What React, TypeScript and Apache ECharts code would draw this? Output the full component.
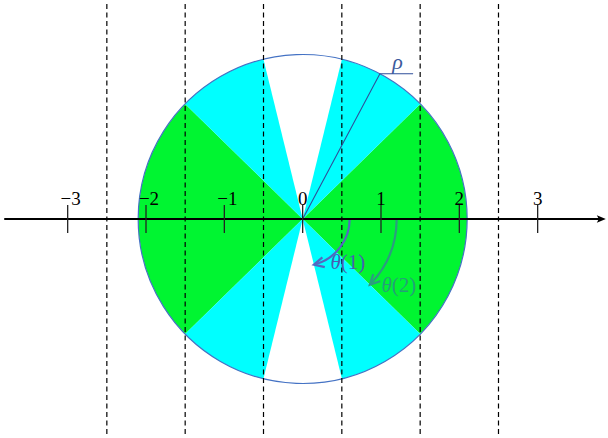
import React, { useEffect, useRef } from "react";
import * as echarts from "echarts";

// ---- data ----
const tickValues = [-3, -2, -1, 0, 1, 2, 3];
const tickLabels = ["−3", "−2", "−1", "0", "1", "2", "3"];
const dashedX = [-2.5, -1.5, -0.5, 0.5, 1.5, 2.5];
const circleRadius = 2.1;
// sector boundaries in degrees (math convention, counter-clockwise from +x)
const greenStart = [-44.4, 135.6];
const greenEnd = [44.4, 224.4];
const cyanStart = [44.4, 103.8, 224.4, 283.8];
const cyanEnd = [76.2, 135.6, 256.2, 315.6];
const rhoAngle = 62;
const rhoTailX = 1.41;
const thetaNames = ["1", "2"];
const thetaRadii = [0.6, 1.2];
const thetaAngles = [76.2, 44.4];
const axisFrom = -3.81;
const axisTo = 3.87;

const X_MIN = -3.864;
const X_MAX = 3.898;
const Y_MIN = -2.796;
const Y_MAX = 2.796;

const GREEN = "#00f531";
const CYAN = "#00ffff";
const CIRCLE = "#4472c4";
const THETA_ARC = ["#5468c0", "#2c9c80"];
const THETA_TXT = ["#4860b0", "#24a078"];
const FAMILY = "Liberation Serif";

export default function App() {
  const ref = useRef<HTMLDivElement>(null);
  useEffect(() => {
    if (!ref.current) return;
    const chart = echarts.init(ref.current, null, { renderer: "svg" });
    const rad = (d: number) => (d * Math.PI) / 180;

    const sectorData: number[][] = [];
    greenStart.forEach((s, i) => sectorData.push([s, greenEnd[i], 0]));
    cyanStart.forEach((s, i) => sectorData.push([s, cyanEnd[i], 1]));

    const option: any = {
      animation: false,
      grid: { left: 0, right: 0, top: 0, bottom: 0 },
      xAxis: { type: "value", min: X_MIN, max: X_MAX, show: false },
      yAxis: { type: "value", min: Y_MIN, max: Y_MAX, show: false },
      series: [
        {
          type: "custom",
          z: 1,
          silent: true,
          data: sectorData,
          renderItem: (p: any, api: any) => {
            const c = api.coord([0, 0]);
            const r = api.size([circleRadius, 0])[0];
            const s = api.value(0);
            const e = api.value(1);
            return {
              type: "sector",
              shape: {
                cx: c[0], cy: c[1], r0: 0, r,
                startAngle: -rad(e), endAngle: -rad(s), clockwise: true,
              },
              style: { fill: api.value(2) === 0 ? GREEN : CYAN },
            };
          },
        },
        {
          type: "custom",
          z: 2,
          silent: true,
          data: [[0, 0]],
          renderItem: (p: any, api: any) => {
            const c = api.coord([0, 0]);
            const r = api.size([circleRadius, 0])[0];
            return {
              type: "circle",
              shape: { cx: c[0], cy: c[1], r },
              style: { fill: "none", stroke: CIRCLE, lineWidth: 1.2 },
            };
          },
        },
        {
          type: "custom",
          z: 3,
          silent: true,
          data: dashedX.map((x) => [x, 0]),
          renderItem: (p: any, api: any) => {
            const x = api.value(0);
            const a = api.coord([x, 2.745]);
            const b = api.coord([x, -2.757]);
            return {
              type: "line",
              shape: { x1: a[0], y1: a[1], x2: b[0], y2: b[1] },
              style: { stroke: "#000", lineWidth: 1.2, lineDash: [5, 3.5] },
            };
          },
        },
        {
          // rho
          type: "custom",
          z: 4,
          silent: true,
          data: [[0, 0]],
          renderItem: (p: any, api: any) => {
            const o = api.coord([0, 0]);
            const px = circleRadius * Math.cos(rad(rhoAngle));
            const py = circleRadius * Math.sin(rad(rhoAngle));
            const q = api.coord([px, py]);
            const t = api.coord([rhoTailX, py]);
            return {
              type: "group",
              children: [
                {
                  type: "polyline",
                  shape: { points: [o, q, t] },
                  style: { fill: "none", stroke: "#2f4f9a", lineWidth: 1.1 },
                },
                {
                  type: "text",
                  x: (q[0] + t[0]) / 2 + 1,
                  y: q[1] - 1,
                  style: {
                    text: "ρ",
                    fill: "#3b5a9c",
                    fontFamily: FAMILY,
                    fontStyle: "italic",
                    fontSize: 22,
                    align: "center",
                    verticalAlign: "bottom",
                  },
                },
              ],
            };
          },
        },
        {
          // theta arcs
          type: "custom",
          z: 4,
          silent: true,
          data: thetaRadii.map((r, i) => [r, thetaAngles[i]]),
          renderItem: (p: any, api: any) => {
            const i = p.dataIndex;
            const rr = api.value(0);
            const ang = api.value(1);
            const o = api.coord([0, 0]);
            const r = api.size([rr, 0])[0];
            const tip = api.coord([rr * Math.cos(rad(-ang)), rr * Math.sin(rad(-ang))]);
            const a = rad(ang);
            const dx = -Math.sin(a);
            const dy = Math.cos(a);
            const nx = -dy;
            const ny = dx;
            const L = 10, W = 5;
            const p1 = [tip[0] - L * dx + W * nx, tip[1] - L * dy + W * ny];
            const p2 = [tip[0] - L * dx - W * nx, tip[1] - L * dy - W * ny];
            const labelPos = i === 0 ? api.coord([0.578, -0.555]) : api.coord([1.228, -0.843]);
            return {
              type: "group",
              children: [
                {
                  type: "arc",
                  shape: { cx: o[0], cy: o[1], r, startAngle: 0, endAngle: a - 0.03, clockwise: true },
                  style: { fill: "none", stroke: THETA_ARC[i], lineWidth: 2.2 },
                },
                {
                  type: "polyline",
                  shape: { points: [p1, tip, p2] },
                  style: { fill: "none", stroke: THETA_ARC[i], lineWidth: 2.2, lineJoin: "miter" },
                },
                {
                  type: "text",
                  x: labelPos[0],
                  y: labelPos[1],
                  style: {
                    text: `{i|θ}{n|(${thetaNames[i]})}`,
                    align: "center",
                    verticalAlign: "middle",
                    rich: {
                      i: { fontFamily: FAMILY, fontStyle: "italic", fontSize: 21, fill: THETA_TXT[i] },
                      n: { fontFamily: FAMILY, fontSize: 21, fill: THETA_TXT[i] },
                    },
                  },
                },
              ],
            };
          },
        },
        {
          // number line
          type: "custom",
          z: 5,
          silent: true,
          data: [[axisFrom, axisTo]],
          renderItem: (p: any, api: any) => {
            const a = api.coord([api.value(0), 0]);
            const b = api.coord([api.value(1), 0]);
            return {
              type: "group",
              children: [
                {
                  type: "line",
                  shape: { x1: a[0], y1: a[1], x2: b[0] - 4, y2: b[1] },
                  style: { stroke: "#000", lineWidth: 1.8 },
                },
                {
                  type: "polygon",
                  shape: { points: [[b[0], b[1]], [b[0] - 9, b[1] - 3.8], [b[0] - 7, b[1]], [b[0] - 9, b[1] + 3.8]] },
                  style: { fill: "#000" },
                },
              ],
            };
          },
        },
        {
          // ticks + labels
          type: "custom",
          z: 6,
          silent: true,
          data: tickValues.map((v) => [v, 0]),
          renderItem: (p: any, api: any) => {
            const v = api.value(0);
            const c = api.coord([v, 0]);
            const lbl = tickLabels[p.dataIndex];
            const shift = lbl.startsWith("−") ? 3 : 0;
            return {
              type: "group",
              children: [
                {
                  type: "line",
                  shape: { x1: c[0], y1: c[1] - 14, x2: c[0], y2: c[1] + 14 },
                  style: { stroke: "#222", lineWidth: 1.3 },
                },
                {
                  type: "text",
                  x: c[0] + shift,
                  y: c[1] - 21,
                  style: {
                    text: lbl,
                    fill: "#000",
                    fontFamily: FAMILY,
                    fontSize: 19,
                    align: "center",
                    verticalAlign: "middle",
                  },
                },
              ],
            };
          },
        },
      ],
    };
    chart.setOption(option);
    return () => chart.dispose();
  }, []);
  return (
    <div
      ref={ref}
      style={{ position: "absolute", left: 0, top: 0, width: 608, height: 438, background: "#fff" }}
    />
  );
}
